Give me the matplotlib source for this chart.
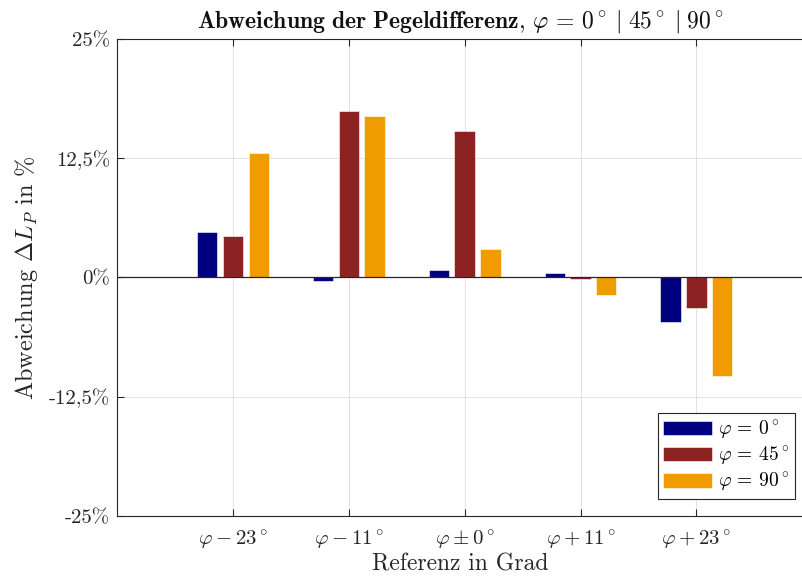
import numpy as np
import matplotlib
matplotlib.use("Agg")
import matplotlib.pyplot as plt

plt.rcParams['font.family'] = 'cmr10'
plt.rcParams['mathtext.fontset'] = 'cm'
plt.rcParams['axes.unicode_minus'] = False
plt.rcParams['axes.formatter.use_mathtext'] = True

# Data
categories = [r"$\varphi - 23^\circ$", r"$\varphi - 11^\circ$", r"$\varphi \pm 0^\circ$",
              r"$\varphi + 11^\circ$", r"$\varphi + 23^\circ$"]
dev_0 = [4.8, -0.4, 0.8, 0.5, -4.7]
dev_45 = [4.4, 17.5, 15.4, -0.2, -3.2]
dev_90 = [13.0, 16.9, 3.0, -1.8, -10.3]
series_labels = [r"$\varphi \,=\, 0^\circ$", r"$\varphi \,=\, 45^\circ$", r"$\varphi \,=\, 90^\circ$"]
yticks = [-25, -12.5, 0, 12.5, 25]
ytick_labels = ["-25%", "-12,5%", "0%", "12,5%", "25%"]

colors = ["#000080", "#8b2323", "#f09b00"]

fig = plt.figure(figsize=(8.03, 5.76), dpi=100)
ax = fig.add_axes([0.1457, 0.1042, 0.8543, 0.8281])

x = np.arange(1, len(categories) + 1)
step = 0.223
width = 0.175
for k, (vals, lab, col) in enumerate(zip([dev_0, dev_45, dev_90], series_labels, colors)):
    ax.bar(x + (k - 1) * step, vals, width, color=col, label=lab, zorder=3,
           edgecolor="white", linewidth=0.4)

ax.axhline(0, color="#262626", lw=0.9, zorder=4)

ax.set_xlim(0, 5.92)
ax.set_ylim(-25, 25)
ax.set_xticks(x)
ax.set_xticklabels(categories)
ax.set_yticks(yticks)
ax.set_yticklabels(ytick_labels)
ax.tick_params(axis='both', direction='in', labelsize=15, colors="#262626",
               length=5, width=0.8, top=True, right=False, labelcolor="#262626")
ax.tick_params(axis='x', pad=9)
ax.tick_params(axis='y', pad=5)
ax.grid(True, color="#dcdcdc", lw=0.6, zorder=0)
ax.set_axisbelow(True)

for side in ['left', 'bottom', 'top']:
    ax.spines[side].set_color("#262626")
    ax.spines[side].set_linewidth(0.8)
ax.spines['right'].set_visible(False)

ax.set_xlabel("Referenz in Grad", fontsize=17, color="#262626", labelpad=1)
ax.set_ylabel(r"Abweichung $\Delta L_P$ in %", fontsize=17.5, color="#262626", labelpad=6)
ax.set_title(r"$\mathbf{Abweichung\ der\ Pegeldifferenz}$, "
             r"$\varphi \,=\, 0^\circ \;|\; 45^\circ \;|\; 90^\circ$",
             fontsize=17, color="#111111", pad=8)

leg = ax.legend(loc='lower right', bbox_to_anchor=(0.988, 0.035), fontsize=14,
                fancybox=False, framealpha=1, edgecolor="#262626",
                handlelength=2.5, handleheight=0.75, handletextpad=0.3,
                labelspacing=0.2, borderpad=0.3, borderaxespad=0)
leg.get_frame().set_linewidth(0.8)

fig.savefig("out.png", dpi=100)
